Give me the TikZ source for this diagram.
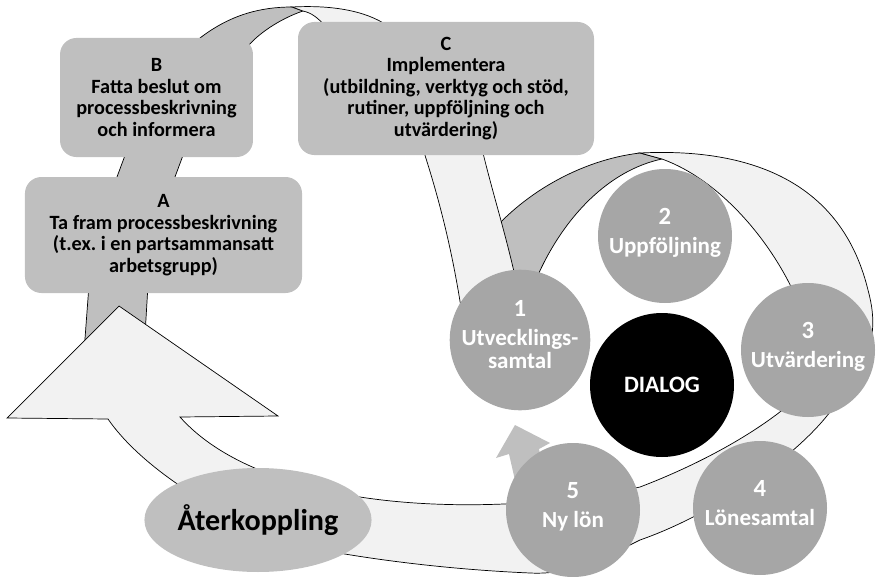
\documentclass[tikz,border=0pt]{standalone}
\usepackage{fontspec}
\setmainfont{Carlito}
\usetikzlibrary{shapes.geometric}
\frenchspacing

\definecolor{boxgray}{HTML}{BFBFBF}
\definecolor{stagegray}{HTML}{A6A6A6}
\definecolor{bandlight}{HTML}{F2F2F2}

\newcommand{\stagenum}[1]{{\fontsize{21}{21}\selectfont #1}\\[5.2pt]}

\tikzset{
  box/.style={fill=boxgray, rounded corners=14pt, align=center, inner sep=2pt,
    font=\bfseries\fontsize{17.2}{18.3}\selectfont},
  stage/.style={circle, fill=stagegray, text=white, align=center, inner sep=0pt,
    text depth=9pt, minimum size=113.9pt, font=\bfseries\fontsize{19.6}{19.5}\selectfont},
  band/.style={fill=bandlight, draw=black, line width=0.6pt},
  backband/.style={fill=boxgray, draw=black, line width=0.6pt},
}

\begin{document}
\begin{tikzpicture}[x=0.85pt, y=-0.85pt]
  \useasboundingbox (0,0) rectangle (878,577);

  \draw[backband] (200,50) -- (200,38) .. controls (230,15) and (260,7) .. (292,7) -- (303,11)
    .. controls (285,17) and (262,30) .. (248,46) -- (248,50) -- cycle;
  \draw[band] (292,7) .. controls (330,5) and (365,10) .. (388,26) -- (325,26)
    .. controls (318,18) and (312,13) .. (303,11) -- cycle;

  \draw[backband] (127,150) -- (114,185) -- (172,185) -- (185,150) -- cycle;
  \draw[backband] (89,285) -- (84,352) -- (144,352) -- (148,285) -- cycle;

  \draw[backband] (485,240) .. controls (520,195) and (580,160) .. (640,153) -- (662,159)
    .. controls (610,170) and (565,215) .. (538,275) -- (520,300) -- cycle;
  \draw[band] (420,140) .. controls (440,200) and (455,260) .. (465,335) -- (520,310) -- (517,285)
    .. controls (505,230) and (490,185) .. (480,140) -- cycle;
  \draw[band] (640,153) .. controls (740,148) and (840,175) .. (868,290)
    .. controls (872,305) and (874,318) .. (872,335) -- (800,335) -- (795,295)
    .. controls (770,240) and (720,180) .. (662,159) -- cycle;

  \draw[band] (180,417) .. controls (220,462) and (290,486) .. (360,497)
    .. controls (450,511) and (560,505) .. (640,487)
    .. controls (690,468) and (745,440) .. (785,408) -- (835,405)
    .. controls (805,450) and (720,512) .. (640,540)
    .. controls (600,560) and (570,575) .. (530,573)
    .. controls (460,570) and (390,562) .. (333,552)
    .. controls (260,540) and (150,480) .. (108,419)
    -- (7,418) -- (119,306) -- (278,416) -- cycle;

  \fill[boxgray] (515,425) -- (550,443) -- (539,449) -- (549,500) -- (520,502) -- (509,454) -- (496,458) -- cycle;

  \node[box, minimum width=164pt, minimum height=101.2pt] (b) at (156.5,97.5)
    {B\\Fatta beslut om\\processbeskrivning\\och informera};
  \node[box, minimum width=235.5pt, minimum height=98.6pt] (a) at (163.5,235)
    {A\\Ta fram processbeskrivning\\(t.ex. i en partsammansatt\\arbetsgrupp)};
  \node[box, minimum width=251.6pt, minimum height=113.1pt] (c) at (446,88.5)
    {C\\Implementera\\(utbildning, verktyg och stöd,\\rutiner, uppföljning och\\utvärdering)};

  \node[stage] (s1) at (520,340) {\stagenum{1}Utvecklings-\\samtal};
  \node[stage] (s2) at (665,236) {\stagenum{2}Uppföljning};
  \node[stage] (s3) at (808,350) {\stagenum{3}Utvärdering};
  \node[stage] (s4) at (760,508) {\stagenum{4}Lönesamtal};
  \node[stage] (s5) at (573,510) {\stagenum{5}Ny lön};
  \node[circle, fill=black, text=white, minimum size=122.4pt, inner sep=0pt,
    font=\bfseries\fontsize{20}{20}\selectfont] (dialog) at (662,385) {DIALOG};
  \node[ellipse, fill=boxgray, minimum width=158pt, minimum height=88.4pt, inner sep=0pt,
    font=\bfseries\fontsize{25.6}{27}\selectfont] (feedback) at (258,520) {Återkoppling};
\end{tikzpicture}
\end{document}
